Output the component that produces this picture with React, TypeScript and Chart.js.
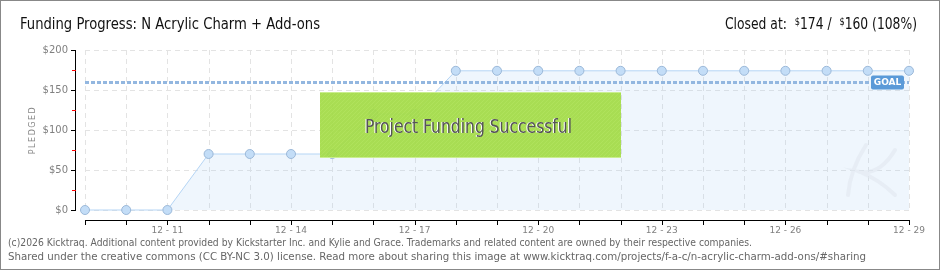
import React, { useEffect, useRef } from "react";
import { Chart, registerables } from "chart.js";

Chart.register(...registerables);

const dates = [
  "12-09", "12-10", "12-11", "12-12", "12-13", "12-14", "12-15", "12-16", "12-17", "12-18", "12-19",
  "12-20", "12-21", "12-22", "12-23", "12-24", "12-25", "12-26", "12-27", "12-28", "12-29",
];
const pledged = [0, 0, 0, 70, 70, 70, 70, 120, 120, 174, 174, 174, 174, 174, 174, 174, 174, 174, 174, 174, 174];
const goal = 160;
const yTicks = [0, 50, 100, 150, 200];
const yMinorTicks = [25, 75, 125, 175];
const titleText = "Funding Progress: N Acrylic Charm + Add-ons";
const footer1 =
  "(c)2026 Kicktraq. Additional content provided by Kickstarter Inc. and Kylie and Grace. Trademarks and related content are owned by their respective companies.";
const footer2 =
  "Shared under the creative commons (CC BY-NC 3.0) license. Read more about sharing this image at www.kicktraq.com/projects/f-a-c/n-acrylic-charm-add-ons/#sharing";

const NARROW = '"Liberation Sans Narrow", "DejaVu Sans Condensed", "DejaVu Sans", sans-serif';

function fitText(ctx: CanvasRenderingContext2D, text: string, x: number, y: number, w: number) {
  const nat = ctx.measureText(text).width;
  ctx.save();
  ctx.translate(x, y);
  ctx.scale(w / nat, 1);
  ctx.textAlign = "left";
  ctx.fillText(text, 0, 0);
  ctx.restore();
}

function drawAxes(chart: any) {
  const ctx = chart.ctx as CanvasRenderingContext2D;
  const x = chart.scales.x;
  const y = chart.scales.y;
  const x0 = Math.round(x.getPixelForValue(0));
  const x1 = Math.round(x.getPixelForValue(dates.length - 1));
  const yTop = Math.round(y.getPixelForValue(200));
  const yBot = Math.round(y.getPixelForValue(0));
  ctx.save();
  ctx.setLineDash([]);
  ctx.lineWidth = 1;
  ctx.strokeStyle = "#000000";
  ctx.beginPath();
  ctx.moveTo(75.5, yTop);
  ctx.lineTo(75.5, yBot + 1);
  ctx.moveTo(x0, 220.5);
  ctx.lineTo(x1 + 1, 220.5);
  ctx.stroke();
  ctx.fillStyle = "#000000";
  ctx.fillRect(75, yTop, 1, yBot - yTop + 1);
  ctx.fillRect(x0, 220, x1 - x0 + 1, 1);
  yTicks.forEach((v) => {
    const py = Math.round(y.getPixelForValue(v));
    ctx.fillStyle = "#000000";
    ctx.fillRect(71, py, 5, 1);
  });
  yMinorTicks.forEach((v) => {
    const py = Math.round(y.getPixelForValue(v));
    ctx.fillStyle = "#ff0000";
    ctx.fillRect(72, py, 4, 1);
  });
  ctx.fillStyle = "#000000";
  dates.forEach((_, i) => {
    const px = Math.round(x.getPixelForValue(i));
    ctx.fillRect(px, 220, 1, 5);
  });
  ctx.restore();
}

const decor = {
  id: "decor",
  beforeDraw(chart: any) {
    const ctx = chart.ctx as CanvasRenderingContext2D;
    ctx.save();
    ctx.fillStyle = "#ffffff";
    ctx.fillRect(0, 0, chart.width, chart.height);
    ctx.restore();
  },
  beforeDatasetsDraw(chart: any) {
    const ctx = chart.ctx as CanvasRenderingContext2D;
    const x = chart.scales.x;
    const y = chart.scales.y;
    const area = chart.chartArea;
    ctx.save();
    ctx.strokeStyle = "#e3e3e3";
    ctx.lineWidth = 1;
    ctx.lineCap = "butt";
    ctx.setLineDash([5, 4]);
    dates.forEach((_, i) => {
      const px = Math.round(x.getPixelForValue(i)) + 0.5;
      ctx.beginPath();
      ctx.moveTo(px, area.top);
      ctx.lineTo(px, area.bottom);
      ctx.stroke();
    });
    yTicks.forEach((v) => {
      const py = Math.round(y.getPixelForValue(v)) + 0.5;
      ctx.beginPath();
      ctx.moveTo(area.left, py);
      ctx.lineTo(area.right, py);
      ctx.stroke();
    });
    ctx.restore();
    drawAxes(chart);
  },
  afterDatasetsDraw(chart: any) {
    const ctx = chart.ctx as CanvasRenderingContext2D;
    const y = chart.scales.y;
    const area = chart.chartArea;
    ctx.save();

    // watermark
    ctx.strokeStyle = "rgba(225,232,240,0.6)";
    ctx.lineWidth = 4;
    ctx.lineCap = "round";
    ctx.beginPath();
    ctx.moveTo(866, 145);
    ctx.quadraticCurveTo(850, 170, 848, 195);
    ctx.moveTo(895, 150);
    ctx.quadraticCurveTo(880, 175, 860, 172);
    ctx.quadraticCurveTo(880, 180, 895, 195);
    ctx.stroke();
    ctx.lineCap = "butt";

    // goal line
    const gy = Math.round(y.getPixelForValue(goal)) + 0.5;
    ctx.strokeStyle = "#93b7e0";
    ctx.lineWidth = 3;
    ctx.setLineDash([4, 2]);
    ctx.beginPath();
    ctx.moveTo(area.left, gy);
    ctx.lineTo(area.right, gy);
    ctx.stroke();
    ctx.setLineDash([]);

    // goal label
    ctx.fillStyle = "#5b9ad8";
    const gx = area.right - 38;
    ctx.beginPath();
    (ctx as any).roundRect(gx, gy - 7, 33, 14, 2);
    ctx.fill();
    ctx.fillStyle = "#ffffff";
    ctx.font = 'bold 9px "DejaVu Sans", sans-serif';
    ctx.textBaseline = "middle";
    ctx.textAlign = "center";
    ctx.fillText("GOAL", gx + 16.5, gy + 0.5);

    // success box
    const bx = 320, by = 92, bw = 301, bh = 66;
    ctx.fillStyle = "rgba(162, 218, 70, 0.93)";
    ctx.fillRect(bx, by, bw, bh);
    ctx.save();
    ctx.beginPath();
    ctx.rect(bx, by, bw, bh);
    ctx.clip();
    ctx.strokeStyle = "rgba(190, 235, 110, 0.35)";
    ctx.lineWidth = 1;
    for (let i = -bh; i < bw + bh; i += 4) {
      ctx.beginPath();
      ctx.moveTo(bx + i, by + bh);
      ctx.lineTo(bx + i + bh, by);
      ctx.stroke();
    }
    ctx.restore();
    ctx.fillStyle = "rgba(205,240,150,0.9)";
    ctx.fillRect(bx, by, bw, 1);
    ctx.fillRect(bx, by + bh - 1, bw, 1);
    ctx.font = `19px ${NARROW}`;
    ctx.textBaseline = "alphabetic";
    ctx.fillStyle = "#ffffff";
    fitText(ctx, "Project Funding Successful", 364, 133, 207);
    ctx.fillStyle = "#555555";
    fitText(ctx, "Project Funding Successful", 365, 133, 207);
    ctx.restore();
  },
  afterDraw(chart: any) {
    const ctx = chart.ctx as CanvasRenderingContext2D;
    drawAxes(chart);
    ctx.save();

    // y title
    ctx.save();
    ctx.translate(33, 130);
    ctx.rotate(-Math.PI / 2);
    ctx.fillStyle = "#888888";
    ctx.font = '8px "DejaVu Sans", sans-serif';
    ctx.textAlign = "center";
    ctx.textBaseline = "middle";
    (ctx as any).letterSpacing = "1.5px";
    ctx.fillText("PLEDGED", 0, 0);
    (ctx as any).letterSpacing = "0px";
    ctx.restore();

    // title
    ctx.fillStyle = "#111111";
    ctx.font = `15px ${NARROW}`;
    ctx.textBaseline = "alphabetic";
    fitText(ctx, titleText, 20, 29, 300);

    // closed at
    const pieces: [string, number, number][] = [
      ["Closed at:  ", 15, 0],
      ["$", 10, -4],
      ["174 /  ", 15, 0],
      ["$", 10, -4],
      ["160 (108%)", 15, 0],
    ];
    let total = 0;
    pieces.forEach(([t, s]) => {
      ctx.font = `${s}px ${NARROW}`;
      total += ctx.measureText(t).width;
    });
    const scale = 192 / total;
    let cx = 725;
    pieces.forEach(([t, s, dy]) => {
      ctx.font = `${s}px ${NARROW}`;
      const w = ctx.measureText(t).width * scale;
      fitText(ctx, t, cx, 29 + dy, w);
      cx += w;
    });

    // footer
    ctx.fillStyle = "#666666";
    ctx.font = `10px ${NARROW}`;
    fitText(ctx, footer1, 8, 246, 744);
    fitText(ctx, footer2, 8, 260, 858);

    // border
    ctx.strokeStyle = "#888888";
    ctx.lineWidth = 1;
    ctx.setLineDash([]);
    ctx.strokeRect(0.5, 0.5, chart.width - 1, chart.height - 1);
    ctx.restore();
  },
};

export default function App() {
  const ref = useRef<HTMLCanvasElement | null>(null);
  useEffect(() => {
    document.body.style.margin = "0";
    const canvas = ref.current!;
    const chart = new Chart(canvas, {
      type: "line",
      data: {
        labels: dates,
        datasets: [
          {
            data: pledged,
            borderColor: "#b5d5f5",
            borderWidth: 1,
            backgroundColor: "rgba(175, 210, 245, 0.2)",
            fill: "origin",
            tension: 0,
            clip: false,
            pointRadius: 4.5,
            pointBackgroundColor: "#c3ddf7",
            pointBorderColor: "#9cb9d9",
            pointBorderWidth: 1,
          },
        ],
      },
      options: {
        animation: false,
        responsive: false,
        devicePixelRatio: 1,
        layout: { padding: { left: 0, top: 50, right: 31, bottom: 0 } },
        plugins: { legend: { display: false }, tooltip: { enabled: false } },
        scales: {
          x: {
            type: "category",
            offset: false,
            afterFit: (s: any) => {
              s.height = 60;
            },
            grid: { display: false, drawTicks: false, tickLength: 0 },
            border: { display: false },
            ticks: {
              autoSkip: false,
              maxRotation: 0,
              padding: 15,
              color: "#808080",
              font: { family: '"DejaVu Sans", sans-serif', size: 9 },
              callback: (_v: any, i: number) => ((i - 2) % 3 === 0 ? dates[i].replace("-", " - ") : ""),
            },
          },
          y: {
            min: 0,
            max: 200,
            afterFit: (s: any) => {
              s.width = 85;
            },
            afterBuildTicks: (s: any) => {
              s.ticks = yTicks.map((v) => ({ value: v }));
            },
            grid: { display: false, drawTicks: false, tickLength: 0 },
            border: { display: false },
            ticks: {
              padding: 17,
              color: "#808080",
              font: { family: '"DejaVu Sans", sans-serif', size: 10 },
              callback: (v: any) => "$" + v,
            },
          },
        },
      },
      plugins: [decor],
    });
    return () => chart.destroy();
  }, []);
  return <canvas ref={ref} width={940} height={270} style={{ display: "block" }} />;
}
